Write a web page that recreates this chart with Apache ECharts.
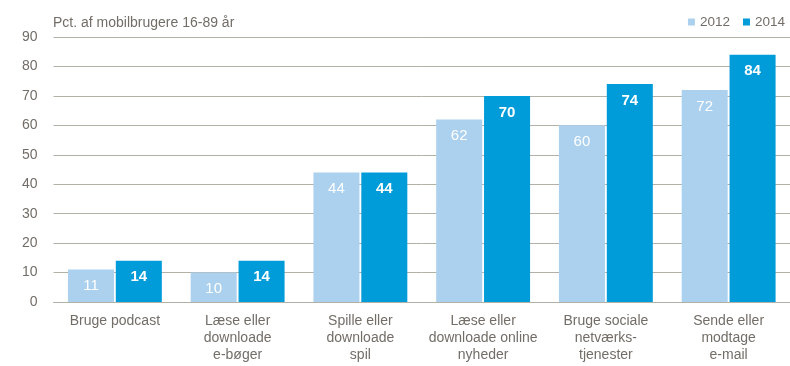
<!DOCTYPE html>
<html>
<head>
<meta charset="utf-8">
<script src="https://cdn.jsdelivr.net/npm/echarts@6/dist/echarts.min.js"></script>
<style>
  html, body { margin: 0; padding: 0; background: #fff; }
  #chart { width: 790px; height: 366px; }
</style>
</head>
<body>
<div id="chart"></div>
<script>
// Mobile activities, share of mobile users aged 16-89
const categories = [
  'Bruge podcast',
  'Læse eller\ndownloade\ne-bøger',
  'Spille eller\ndownloade\nspil',
  'Læse eller\ndownloade online\nnyheder',
  'Bruge sociale\nnetværks-\ntjenester',
  'Sende eller\nmodtage\ne-mail'
];
const values2012 = [11, 10, 44, 62, 60, 72];
const values2014 = [14, 14, 44, 70, 74, 84];
const yTicks = { min: 0, max: 90, interval: 10 };

const font = 'Liberation Sans, Arial, sans-serif';
const textGrey = '#736d67';

const chart = echarts.init(document.getElementById('chart'), null, { renderer: 'canvas' });
chart.setOption({
  animation: false,
  textStyle: { fontFamily: font },
  title: {
    text: 'Pct. af mobilbrugere 16-89 år',
    left: 48, top: 11,
    textStyle: { fontSize: 14, fontWeight: 'normal', color: textGrey, fontFamily: font }
  },
  legend: {
    right: 0, top: 10,
    itemWidth: 7, itemHeight: 7, itemGap: 13,
    icon: 'rect',
    textStyle: { fontSize: 13.5, color: textGrey, fontFamily: font },
    data: ['2012', '2014']
  },
  grid: { left: 53.5, top: 37, width: 740, height: 265, containLabel: false },
  xAxis: {
    type: 'category',
    data: categories,
    axisTick: { show: false },
    axisLine: { show: true, lineStyle: { color: '#b3b0a6', width: 1 } },
    axisLabel: {
      color: textGrey, fontSize: 14, lineHeight: 17, margin: 11,
      fontFamily: font, interval: 0
    }
  },
  yAxis: {
    type: 'value',
    min: yTicks.min, max: yTicks.max, interval: yTicks.interval,
    axisLine: { show: false },
    axisTick: { show: false },
    splitLine: { lineStyle: { color: '#b3b0a6', width: 1 } },
    axisLabel: { color: textGrey, fontSize: 14, margin: 16, fontFamily: font }
  },
  series: [
    {
      name: '2012', type: 'bar', data: values2012,
      barGap: '4%', barCategoryGap: '23.5%',
      itemStyle: { color: '#acd1ef' },
      label: {
        show: true, position: 'insideTop', distance: 9,
        color: '#ffffff', fontSize: 15, fontFamily: font
      }
    },
    {
      name: '2014', type: 'bar', data: values2014,
      itemStyle: { color: '#009cd9' },
      label: {
        show: true, position: 'insideTop', distance: 9,
        color: '#ffffff', fontSize: 15, fontWeight: 'bold', fontFamily: font
      }
    }
  ]
});
</script>
</body>
</html>
